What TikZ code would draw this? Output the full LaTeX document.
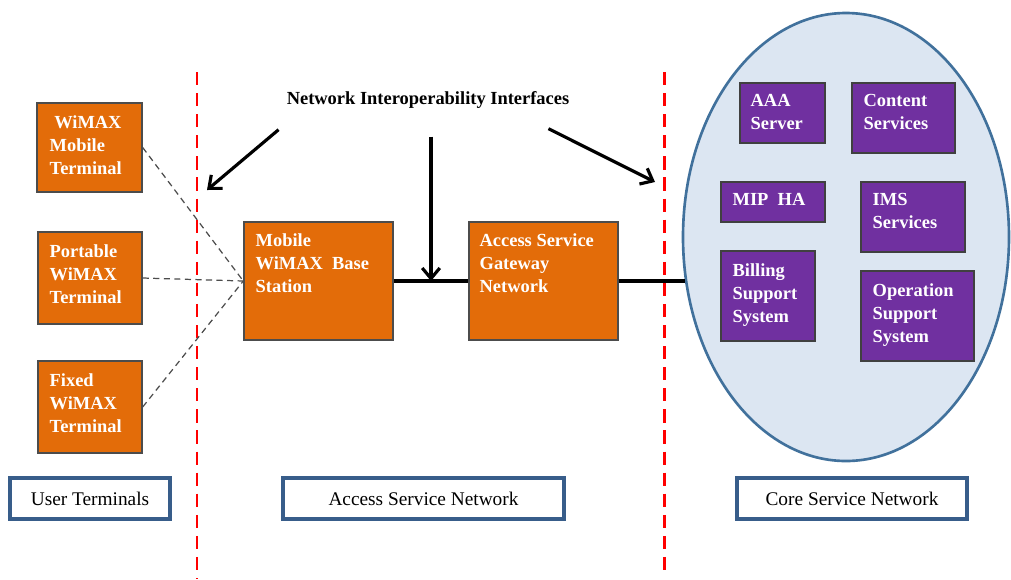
\documentclass[tikz,border=0pt]{standalone}
\usepackage{fontspec}
\setmainfont{Liberation Serif}
\usetikzlibrary{positioning,fit,calc,shapes.geometric,arrows.meta}
\definecolor{wmorange}{HTML}{E36C09}
\definecolor{wmpurple}{HTML}{7030A0}
\definecolor{coreblue}{HTML}{DCE6F2}
\definecolor{coreedge}{HTML}{41719C}
\definecolor{tagedge}{HTML}{385D8A}

\tikzset{
  termbox/.style={draw=black!70, fill=wmorange, line width=0.8pt, inner sep=0pt},
  srvbox/.style={draw=black!75, fill=wmpurple, line width=0.8pt, inner sep=0pt},
  boxtext/.style={anchor=north west, text=white, align=left, inner sep=0pt,
    font=\bfseries\fontsize{10.5}{13}\selectfont},
  tagbox/.style={draw=tagedge, line width=2pt, inner sep=0pt, minimum height={41*0.02cm},
    font=\fontsize{11}{13}\selectfont},
  border/.style={red, line width=1.7pt, dash pattern=on 7.5pt off 4.5pt},
  link/.style={black!70, line width=0.7pt, dash pattern=on 3.5pt off 2.5pt},
  trunk/.style={black, line width=2pt},
  arr/.style={black, line width=1.8pt, -{Straight Barb[length=6pt,width=10pt]}}
}

\begin{document}
\begin{tikzpicture}[x=0.02cm, y=-0.02cm]
  \useasboundingbox (0,0) rectangle (1011,579);

  % zone borders
  \draw [border] (197,72) -- (197,579);
  \draw [border] (664,72) -- (664,572);

  % core service network
  \node [ellipse, draw=coreedge, fill=coreblue, line width=1.5pt,
         minimum width={326*0.02cm}, minimum height={448*0.02cm}] (core) at (846,237) {};

  % user terminals
  \node [termbox, fit={(37,103) (142,192)}] (mobile) {};
  \node [boxtext] (mobiletxt) at ([shift={(13,13)}]mobile.north west) {\ WiMAX\\Mobile\\Terminal};
  \node [termbox, fit={(38,232) (142,324)}] (portable) {};
  \node [boxtext] (portabletxt) at ([shift={(12,13)}]portable.north west) {Portable\\WiMAX\\Terminal};
  \node [termbox, fit={(38,361) (142,453)}] (fixed) {};
  \node [boxtext] (fixedtxt) at ([shift={(12,13)}]fixed.north west) {Fixed\\WiMAX\\Terminal};

  % access service network
  \node [termbox, fit={(244,222) (393,340)}] (base) {};
  \node [boxtext] (basetxt) at ([shift={(12,12)}]base.north west) {Mobile\\WiMAX~~Base\\Station};
  \node [termbox, fit={(469,222) (618,340)}] (gateway) {};
  \node [boxtext] (gatewaytxt) at ([shift={(11,12)}]gateway.north west) {Access Service\\Gateway\\Network};

  % core services
  \node [srvbox, fit={(740,83) (825,143)}] (aaa) {};
  \node [boxtext] (aaatxt) at ([shift={(11,12)}]aaa.north west) {AAA\\Server};
  \node [srvbox, fit={(852,83) (955,153)}] (content) {};
  \node [boxtext] (contenttxt) at ([shift={(12,12)}]content.north west) {Content\\Services};
  \node [srvbox, fit={(721,182) (825,222)}] (mipha) {};
  \node [boxtext] (miphatxt) at ([shift={(12,12)}]mipha.north west) {MIP~~HA};
  \node [srvbox, fit={(861,182) (965,252)}] (ims) {};
  \node [boxtext] (imstxt) at ([shift={(12,12)}]ims.north west) {IMS\\Services};
  \node [srvbox, fit={(721,251) (815,341)}] (billing) {};
  \node [boxtext] (billingtxt) at ([shift={(12,13)}]billing.north west) {Billing\\Support\\System};
  \node [srvbox, fit={(861,271) (974,361)}] (oss) {};
  \node [boxtext] (osstxt) at ([shift={(12,13)}]oss.north west) {Operation\\Support\\System};

  % zone titles
  \node [tagbox, minimum width={160*0.02cm}] (usr) at (90,498.5) {User Terminals};
  \node [tagbox, minimum width={281*0.02cm}] (asn) at (423.5,498.5) {Access Service Network};
  \node [tagbox, minimum width={230*0.02cm}] (csn) at (852,498.5) {Core Service Network};

  % links
  \draw [link] (mobile.east) -- (base.west);
  \draw [link] (portable.east) -- (base.west);
  \draw [link] (fixed.east) -- (base.west);
  \draw [trunk] (base.east) -- (gateway.west);
  \draw [trunk] (gateway.east) -- (gateway.east -| core.195);

  % interfaces
  \node [font=\bfseries\fontsize{10.5}{13}\selectfont] (nii) at (428,100) {Network Interoperability Interfaces};
  \coordinate (tipL) at (207,190);
  \coordinate (tipR) at (655,182);
  \coordinate (tipM) at ($(base.east)!0.5!(gateway.west)$);
  \coordinate (topM) at ($(tipM |- nii.south)+(0,22)$);
  \draw [arr] ($(nii.south west)+(-2,15)$) -- (tipL);
  \draw [arr] (topM) -- (tipM);
  \draw [arr] ($(nii.south east)+(-27,14)$) -- (tipR);
\end{tikzpicture}
\end{document}
